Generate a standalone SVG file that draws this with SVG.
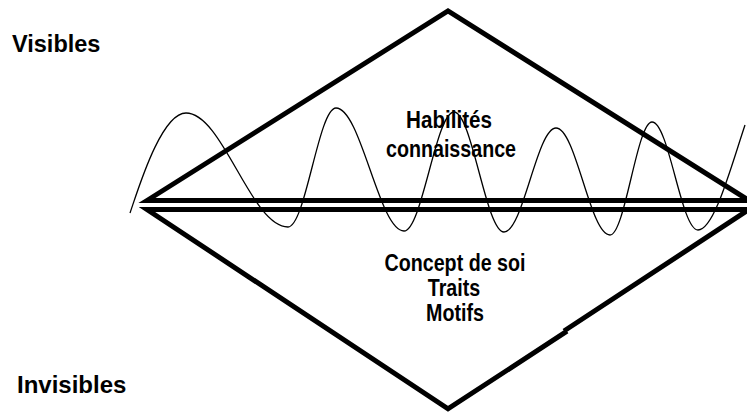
<svg xmlns="http://www.w3.org/2000/svg" width="747" height="414" viewBox="0 0 747 414">
<style>
.bg{fill:#ffffff}
.thick{fill:none;stroke:#000;stroke-width:5;stroke-linejoin:miter;stroke-miterlimit:10}
.wave{fill:none;stroke:#000;stroke-width:1.3}
.side{font-family:"Liberation Sans",Arial,sans-serif;font-weight:bold;font-size:23.5px;fill:#000}
.inner{font-family:"Liberation Sans",Arial,sans-serif;font-weight:bold;font-size:24px;fill:#000;text-anchor:middle}
</style>
<rect class="bg" x="0" y="0" width="747" height="414"/>
<g id="visible-triangle">
<polygon class="thick" points="147,200.5 448,11 749,200.5"/>
</g>
<g id="invisible-triangle">
<path class="thick" d="M564,331 L749,209.5 L147,209.5 L448,408.8 L567,331.2"/>
</g>
<g id="connectors">
<path class="wave" d="M130,213 C138,190 161,113 186,113 C223,113 251,227 288,227 C305.5,227 318.5,108 336,108 C361,108 379,231 404,231 C422,231 436,112 454,112 C472,112 486,232 504,232 C523,232 537,128 556,128 C576,128 590,235 610,235 C625,235 637,122 652,122 C669,122 681,230 698,230 C714,230 730,170 745,125"/>
</g>
<g id="label-visibles">
<text class="side" x="12" y="52">Visibles</text>
</g>
<g id="label-invisibles">
<text class="side" x="17" y="393" style="font-size:24px">Invisibles</text>
</g>
<g id="visible-text">
<text class="inner" transform="translate(449,127.5) scale(0.86,1)">Habilités</text>
<text class="inner" transform="translate(451,157) scale(0.82,1)">connaissance</text>
</g>
<g id="invisible-text">
<text class="inner" transform="translate(455,271) scale(0.82,1)">Concept de soi</text>
<text class="inner" transform="translate(454,296) scale(0.82,1)">Traits</text>
<text class="inner" transform="translate(455,321) scale(0.82,1)">Motifs</text>
</g>
</svg>
